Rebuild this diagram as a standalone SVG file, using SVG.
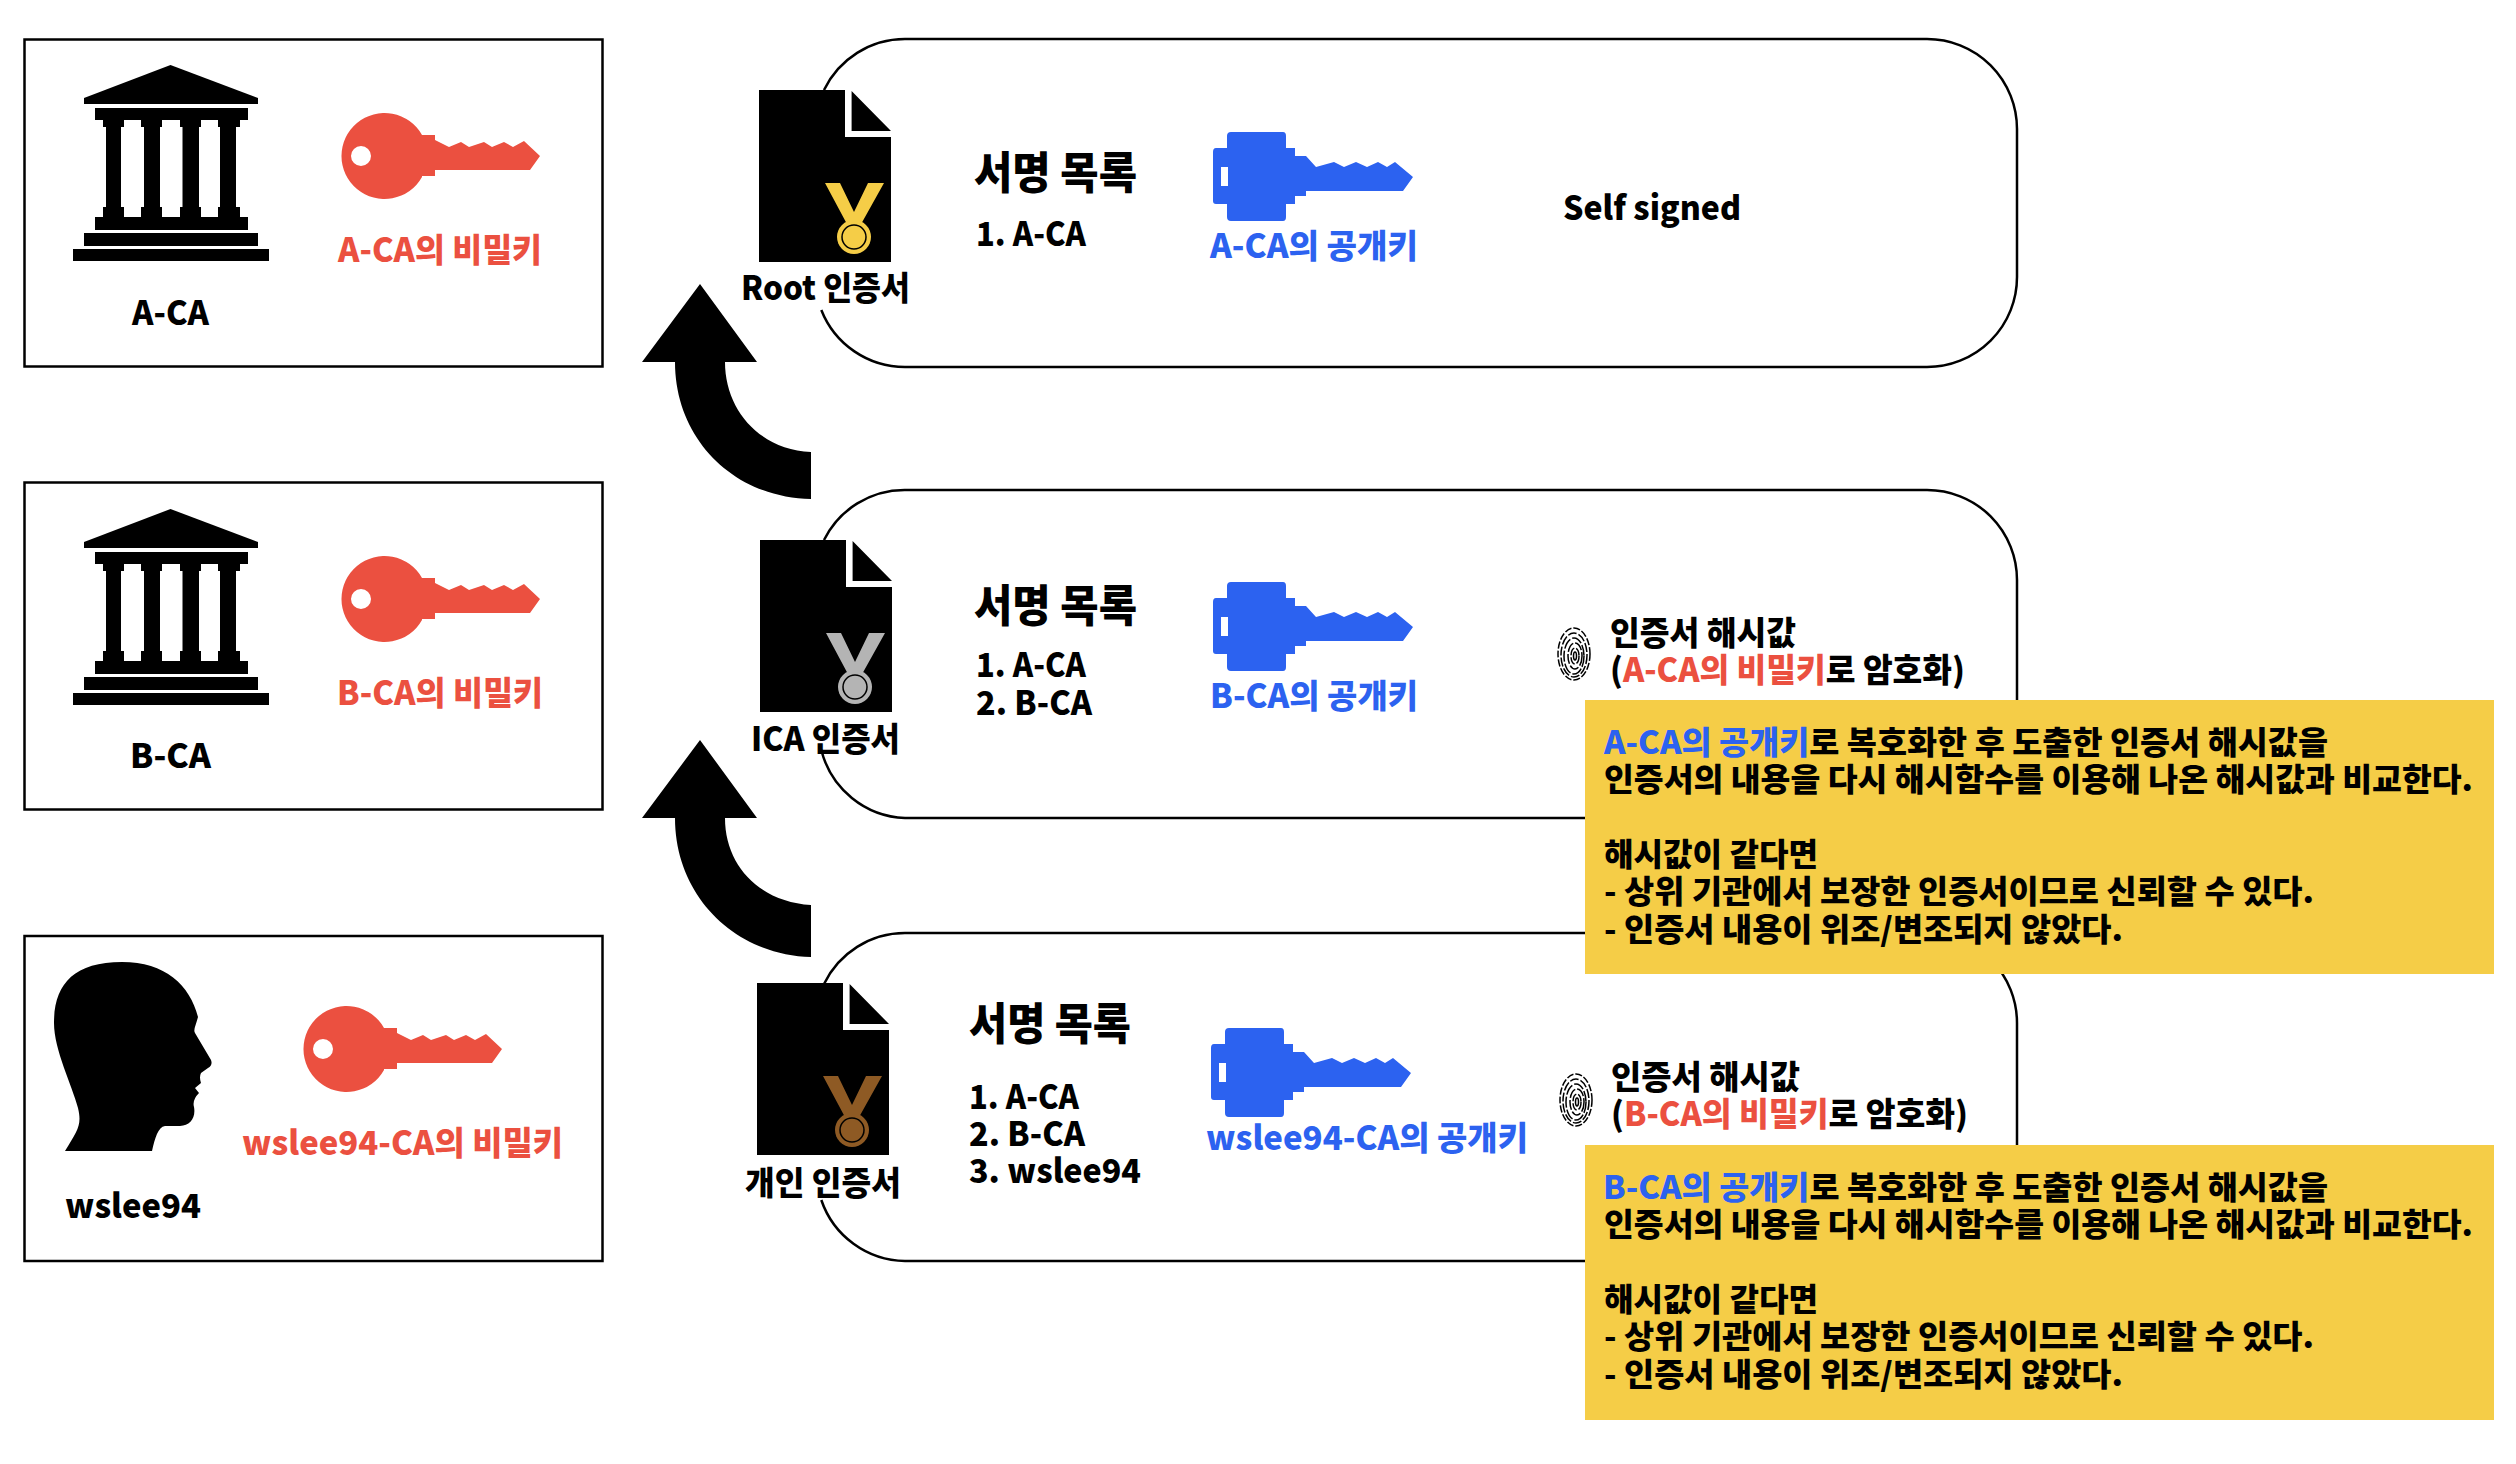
<svg xmlns="http://www.w3.org/2000/svg" width="2516" height="1464" viewBox="0 0 2516 1464">
<style>
text{font-family:"Noto Sans CJK KR","Noto Sans",sans-serif;font-weight:900;fill:#000}
.t{font-size:33px}.h{font-size:44px}.y{font-size:32px}
.r,tspan.r{fill:#EB5040}.b,tspan.b{fill:#2C62F0}
.box{fill:#fff;stroke:#000;stroke-width:2.500}
.card{fill:none;stroke:#000;stroke-width:2.500}
.note{fill:#F5CD47}
</style>
<defs>
<g id="bank">
<path d="M170.500 65L258 98V104H84V98Z"/>
<path d="M95 108H248V120H240V127H236V207H240V217H248V230H95V217H103V207H106V127H103V120H95Z"/>
<path fill="#fff" d="M124 120H141V127H144V207H141V217H124V207H121V127H124ZM162 120H180V127H182.500V207H180V217H162V207H160V127H162ZM201 120H218V127H220V207H218V217H201V207H199V127H201Z"/>
<rect x="84" y="233" width="174" height="13"/><rect x="73" y="249" width="196" height="12"/>
</g>
<path id="redkey" fill="#EB5040" fill-rule="evenodd" d="M38-21A43 43 0 1 0 38 21V20H51V14H146L156 0L140-15L129-9L120-14L108-9L100-14L85-9L77-14L65-9L51-16V-21ZM-13 0A10 10 0 1 1-33 0A10 10 0 1 1-13 0Z"/>
<path id="bluekey" fill="#2C62F0" fill-rule="evenodd" d="M0-25Q0-29 3-29H14V-41Q14-45 18-45H70Q73-45 73-41V-29H82V-21H93L103-10L121-15L131-10L143-15L154-10L165-15L174-10L182-15L200 0L190 14H93V19H82V27H73V40Q73 44 70 44H18Q14 44 14 40V27H3Q0 27 0 24ZM8-10V9H15V-10Z"/>
<path id="doc" d="M759 90H845V137H891V262H759ZM851.600 91L891 131H851.600Z"/>
<path id="ribbon" d="M825 183H840L854 212L868 183H884L860 226H848Z"/>
<g id="fp" fill="none" stroke="#000" stroke-width="1.500">
<ellipse cx="0" cy="0" rx="16" ry="26" stroke-dasharray="7 2"/>
<ellipse cx="0" cy="1" rx="13" ry="22" stroke-dasharray="9 2"/>
<ellipse cx="0" cy="2" rx="10" ry="18" stroke-dasharray="11 2"/>
<ellipse cx="1" cy="2" rx="7" ry="13" stroke-dasharray="10 2"/>
<ellipse cx="1" cy="2" rx="4" ry="8" stroke-dasharray="8 2"/>
<ellipse cx="1" cy="2" rx="1.500" ry="4"/>
</g>
</defs>
<rect width="2516" height="1464" fill="#fff"/>

<g id="node-a-ca">
<rect class="box" x="24.500" y="39.500" width="578" height="327"/>
<use href="#bank"/>
<use href="#redkey" x="384" y="156"/>
<text class="t" x="132" y="325" textLength="77" lengthAdjust="spacingAndGlyphs">A-CA</text>
<text class="t r" x="338" y="262" textLength="204" lengthAdjust="spacingAndGlyphs">A-CA의 비밀키</text>
</g>
<g id="node-b-ca">
<rect class="box" x="24.500" y="482.500" width="578" height="327"/>
<use href="#bank" y="444"/>
<use href="#redkey" x="384" y="599"/>
<text class="t" x="130" y="768" textLength="81" lengthAdjust="spacingAndGlyphs">B-CA</text>
<text class="t r" x="337" y="705" textLength="206" lengthAdjust="spacingAndGlyphs">B-CA의 비밀키</text>
</g>
<g id="node-wslee94">
<rect class="box" x="24.500" y="936" width="578" height="325"/>
<path d="M65 1151C78 1130 82 1125 78 1108C72 1085 54 1050 54 1023C54 985 73 962 122 962C165 962 190 985 198 1017C196 1025 193 1030 195 1033L211 1060Q213 1065 208 1068L201 1073Q199 1077 201 1083L195 1088L199 1093Q192 1100 194 1107C196 1118 190 1126 180 1126H165C158 1127 155 1138 152 1151Z"/>
<use href="#redkey" x="346" y="1049"/>
<text class="t" x="65" y="1218" textLength="136" lengthAdjust="spacingAndGlyphs">wslee94</text>
<text class="t r" x="242" y="1155" textLength="321" lengthAdjust="spacingAndGlyphs">wslee94-CA의 비밀키</text>
</g>

<g id="connectors">
<path d="M725 362C725 410 760 450 811 452V499C735 498 675 440 675 362H642L700 284L757 362Z"/>
<path d="M725 818C725 866 760 902 811 905V957C735 955 675 896 675 818H642L700 740L757 818Z"/>
</g>

<g id="node-root">
<path class="card" d="M824 90A90 90 0 0 1 905 39H1927A90 90 0 0 1 2017 129V277A90 90 0 0 1 1927 367H905A90 90 0 0 1 821.300 310"/>
<use href="#doc"/>
<use href="#ribbon" fill="#F5CD47"/>
<circle cx="854" cy="237" r="17" fill="#F5CD47"/><circle cx="854" cy="237" r="12" fill="none" stroke="#000" stroke-width="1.500"/>
<rect x="848" y="218" width="12" height="5" fill="#F5CD47"/>
<text class="t" x="741" y="300" textLength="169" lengthAdjust="spacingAndGlyphs">Root 인증서</text>
<text class="h" x="974" y="189" textLength="163" lengthAdjust="spacingAndGlyphs">서명 목록</text>
<text class="t" x="976" y="246" textLength="110" lengthAdjust="spacingAndGlyphs">1. A-CA</text>
<use href="#bluekey" x="1213" y="177"/>
<text class="t b" x="1210" y="258" textLength="208" lengthAdjust="spacingAndGlyphs">A-CA의 공개키</text>
<text class="t" x="1563" y="220" textLength="178" lengthAdjust="spacingAndGlyphs">Self signed</text>
</g>

<g id="node-personal">
<path class="card" d="M824 984A90 90 0 0 1 905 933H1927A90 90 0 0 1 2017 1023V1171A90 90 0 0 1 1927 1261H905A90 90 0 0 1 821.300 1200"/>
<use href="#doc" x="-2" y="893"/>
<g transform="translate(-2 893)"><use href="#ribbon" fill="#8E5A24"/>
<circle cx="854" cy="237" r="17" fill="#8E5A24"/><circle cx="854" cy="237" r="12" fill="none" stroke="#000" stroke-width="1.500"/>
<rect x="848" y="218" width="12" height="5" fill="#8E5A24"/></g>
<text class="t" x="745" y="1195" textLength="156" lengthAdjust="spacingAndGlyphs">개인 인증서</text>
<text class="h" x="969" y="1040" textLength="162" lengthAdjust="spacingAndGlyphs">서명 목록</text>
<text class="t" x="969" y="1109" textLength="110" lengthAdjust="spacingAndGlyphs">1. A-CA</text>
<text class="t" x="969" y="1146" textLength="116" lengthAdjust="spacingAndGlyphs">2. B-CA</text>
<text class="t" x="969" y="1183" textLength="172" lengthAdjust="spacingAndGlyphs">3. wslee94</text>
<use href="#bluekey" x="1211" y="1073"/>
<text class="t b" x="1206" y="1150" textLength="322" lengthAdjust="spacingAndGlyphs">wslee94-CA의 공개키</text>
<use href="#fp" x="1576" y="1100"/>
<text class="t" x="1611" y="1089" textLength="189" lengthAdjust="spacingAndGlyphs">인증서 해시값</text>
<text class="t" x="1611" y="1126" textLength="357" lengthAdjust="spacingAndGlyphs">(<tspan class="r">B-CA의 비밀키</tspan>로 암호화)</text>
<rect class="note" x="1585" y="1145" width="909" height="275"/>
<text class="y" x="1603" y="1199" textLength="725" lengthAdjust="spacingAndGlyphs"><tspan class="b">B-CA의 공개키</tspan>로 복호화한 후 도출한 인증서 해시값을</text>
<text class="y" x="1604" y="1236" textLength="869" lengthAdjust="spacingAndGlyphs">인증서의 내용을 다시 해시함수를 이용해 나온 해시값과 비교한다.</text>
<text class="y" x="1604" y="1311" textLength="214" lengthAdjust="spacingAndGlyphs">해시값이 같다면</text>
<text class="y" x="1604" y="1348" textLength="710" lengthAdjust="spacingAndGlyphs">- 상위 기관에서 보장한 인증서이므로 신뢰할 수 있다.</text>
<text class="y" x="1604" y="1386" textLength="519" lengthAdjust="spacingAndGlyphs">- 인증서 내용이 위조/변조되지 않았다.</text>
</g>

<g id="node-ica">
<path class="card" d="M824 540A90 90 0 0 1 905 490H1927A90 90 0 0 1 2017 580V728A90 90 0 0 1 1927 818H905A90 90 0 0 1 821.300 750"/>
<use href="#doc" x="1" y="450"/>
<g transform="translate(1 450)"><use href="#ribbon" fill="#B4B4B4"/>
<circle cx="854" cy="237" r="17" fill="#B4B4B4"/><circle cx="854" cy="237" r="12" fill="none" stroke="#000" stroke-width="1.500"/>
<rect x="848" y="218" width="12" height="5" fill="#B4B4B4"/></g>
<text class="t" x="751" y="751" textLength="149" lengthAdjust="spacingAndGlyphs">ICA 인증서</text>
<text class="h" x="974" y="622" textLength="163" lengthAdjust="spacingAndGlyphs">서명 목록</text>
<text class="t" x="976" y="677" textLength="110" lengthAdjust="spacingAndGlyphs">1. A-CA</text>
<text class="t" x="976" y="715" textLength="116" lengthAdjust="spacingAndGlyphs">2. B-CA</text>
<use href="#bluekey" x="1213" y="627"/>
<text class="t b" x="1210" y="708" textLength="208" lengthAdjust="spacingAndGlyphs">B-CA의 공개키</text>
<use href="#fp" x="1574" y="654"/>
<text class="t" x="1610" y="645" textLength="186" lengthAdjust="spacingAndGlyphs">인증서 해시값</text>
<text class="t" x="1610" y="682" textLength="355" lengthAdjust="spacingAndGlyphs">(<tspan class="r">A-CA의 비밀키</tspan>로 암호화)</text>
<rect class="note" x="1585" y="700" width="909" height="274"/>
<text class="y" x="1604" y="754" textLength="724" lengthAdjust="spacingAndGlyphs"><tspan class="b">A-CA의 공개키</tspan>로 복호화한 후 도출한 인증서 해시값을</text>
<text class="y" x="1604" y="791" textLength="869" lengthAdjust="spacingAndGlyphs">인증서의 내용을 다시 해시함수를 이용해 나온 해시값과 비교한다.</text>
<text class="y" x="1604" y="866" textLength="214" lengthAdjust="spacingAndGlyphs">해시값이 같다면</text>
<text class="y" x="1604" y="903" textLength="710" lengthAdjust="spacingAndGlyphs">- 상위 기관에서 보장한 인증서이므로 신뢰할 수 있다.</text>
<text class="y" x="1604" y="941" textLength="519" lengthAdjust="spacingAndGlyphs">- 인증서 내용이 위조/변조되지 않았다.</text>
</g>
</svg>
